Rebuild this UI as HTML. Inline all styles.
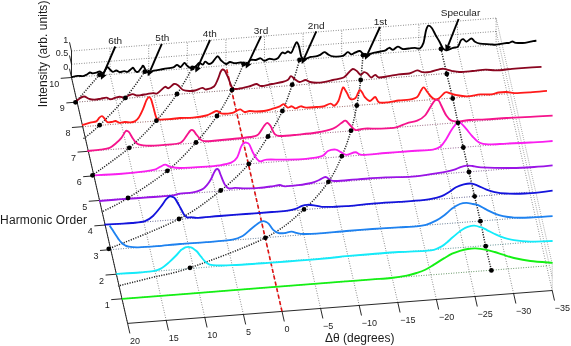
<!DOCTYPE html>
<html><head><meta charset="utf-8"><title>Harmonic order waterfall</title>
<style>
html,body{margin:0;padding:0;background:#fff;}
body{width:571px;height:346px;overflow:hidden;position:relative;font-family:"Liberation Sans",sans-serif;}
svg text{font-family:"Liberation Sans",sans-serif;}
</style></head><body>
<svg width="571" height="346" viewBox="0 0 571 346" style="position:absolute;left:0;top:0">
<rect width="571" height="346" fill="#fff"/>
<path d="M496.1,31.36 L552.2,277.26 M496.1,18.11 L552.2,264.01 M552.2,290.51 L552.2,264.01" fill="none" stroke="#444" stroke-width="0.55" stroke-dasharray="0.8 1.2"/>
<path d="M127.6,323.4 L71.5,77.5 M166.2,320.41 L110.1,74.51 M204.8,317.42 L148.7,71.52 M243.4,314.43 L187.3,68.53 M282,311.44 L225.9,65.54 M320.6,308.45 L264.5,62.55 M359.2,305.46 L303.1,59.56 M397.8,302.47 L341.7,56.57 M436.4,299.48 L380.3,53.58 M475,296.49 L418.9,50.59 M513.6,293.5 L457.5,47.6 M552.2,290.51 L496.1,44.61 M121.99,298.81 L546.59,265.92 M116.38,274.22 L540.98,241.33 M110.77,249.63 L535.37,216.74 M105.16,225.04 L529.76,192.15 M99.55,200.45 L524.15,167.56 M93.94,175.86 L518.54,142.97 M88.33,151.27 L512.93,118.38 M82.72,126.68 L507.32,93.79 M77.11,102.09 L501.71,69.2 M71.5,77.5 L496.1,44.61 M71.5,64.25 L496.1,31.36 M71.5,51 L496.1,18.11 M110.1,74.51 L110.1,48.01 M148.7,71.52 L148.7,45.02 M187.3,68.53 L187.3,42.03 M225.9,65.54 L225.9,39.04 M264.5,62.55 L264.5,36.05 M303.1,59.56 L303.1,33.06 M341.7,56.57 L341.7,30.07 M380.3,53.58 L380.3,27.08 M418.9,50.59 L418.9,24.09 M457.5,47.6 L457.5,21.1 M496.1,44.61 L496.1,18.11" fill="none" stroke="#3a3a3a" stroke-width="0.7" stroke-dasharray="0.8 1.7"/>
<path d="M127.6,323.4 L552.2,290.51 M127.6,323.4 L71.5,77.5 M71.5,77.5 L71.5,51 M127.6,323.4 L129.89,333.44 M166.2,320.41 L168.49,330.45 M204.8,317.42 L207.09,327.46 M243.4,314.43 L245.69,324.47 M282,311.44 L284.29,321.48 M320.6,308.45 L322.89,318.49 M359.2,305.46 L361.49,315.5 M397.8,302.47 L400.09,312.51 M436.4,299.48 L438.69,309.52 M475,296.49 L477.29,306.53 M513.6,293.5 L515.89,303.54 M552.2,290.51 L554.49,300.55 M121.99,298.81 L111.21,299.65 M116.38,274.22 L105.6,275.06 M110.77,249.63 L99.99,250.47 M105.16,225.04 L94.38,225.88 M99.55,200.45 L88.77,201.29 M93.94,175.86 L83.16,176.7 M88.33,151.27 L77.55,152.11 M82.72,126.68 L71.94,127.52 M77.11,102.09 L66.33,102.93 M71.5,77.5 L60.72,78.34 M71.5,77.5 L69.5,68.73 M71.5,64.25 L69.5,55.48 M71.5,51 L69.5,42.23" fill="none" stroke="#111" stroke-width="0.9"/>
<path d="M282,311.44 L226.74,69.23" fill="none" stroke="#e01010" stroke-width="1.6" stroke-dasharray="4 2.6"/>
<path d="M441,48.9 C441.97,53.08 444.85,65.75 446.8,74 C448.75,82.25 450.83,90.27 452.7,98.4 C454.57,106.53 456.23,114.62 458,122.8 C459.77,130.98 461.47,139.3 463.3,147.5 C465.13,155.7 467.12,163.87 469,172 C470.88,180.13 472.7,188.1 474.6,196.3 C476.5,204.5 478.55,212.88 480.4,221.2 C482.25,229.52 483.87,238 485.7,246.2 C487.53,254.4 490.45,266.37 491.4,270.4" fill="none" stroke="#222" stroke-width="1.5" stroke-dasharray="1.15 1.35"/>
<path d="M363,55.2 C362.62,59.33 361.73,71.62 360.7,80 C359.67,88.38 358.42,97.05 356.8,105.5 C355.18,113.95 353.5,122.25 351,130.7 C348.5,139.15 345.57,147.68 341.8,156.2 C338.03,164.72 334.7,172.93 328.4,181.8 C322.1,190.67 314.5,200.07 304,209.4 C293.5,218.73 284.4,228.07 265.4,237.8 C246.4,247.53 209.23,261.1 190,267.8 C170.77,274.5 162,274.97 150,278 C138,281.03 123.33,284.67 118,286" fill="none" stroke="#222" stroke-width="1.5" stroke-dasharray="1.15 1.35"/>
<path d="M299.5,59.9 C298.28,64.03 295.05,76.18 292.2,84.7 C289.35,93.22 286.43,102.37 282.4,111 C278.37,119.63 273.6,127.67 268,136.5 C262.4,145.33 256.68,155 248.8,164 C240.92,173 232.33,181.33 220.7,190.5 C209.07,199.67 197.65,209.28 179,219 C160.35,228.72 120.5,243.83 108.8,248.8" fill="none" stroke="#222" stroke-width="1.5" stroke-dasharray="1.15 1.35"/>
<path d="M243.6,64 C241.67,68.33 236.43,81.33 232,90 C227.57,98.67 223,107.25 217,116 C211,124.75 204.27,133.37 196,142.5 C187.73,151.63 178.73,161.55 167.4,170.8 C156.07,180.05 138.95,191.13 128,198 C117.05,204.87 106.08,209.67 101.7,212" fill="none" stroke="#222" stroke-width="1.5" stroke-dasharray="1.15 1.35"/>
<path d="M192.4,68 C189.83,72.33 183,85.22 177,94 C171,102.78 164.35,111.73 156.4,120.7 C148.45,129.67 139.95,138.7 129.3,147.8 C118.65,156.9 98.63,170.72 92.5,175.3" fill="none" stroke="#222" stroke-width="1.5" stroke-dasharray="1.15 1.35"/>
<path d="M144.8,71.7 C141.57,76.07 132.93,88.98 125.4,97.9 C117.87,106.82 106.62,118.35 99.6,125.2 C92.58,132.05 86.02,136.7 83.3,139" fill="none" stroke="#222" stroke-width="1.5" stroke-dasharray="1.15 1.35"/>
<path d="M99.5,74.8 L75.5,102.3" fill="none" stroke="#222" stroke-width="1.5" stroke-dasharray="1.15 1.35"/>
<path d="M121.99,298.81 L550.45,265.62" fill="none" stroke="#14f014" stroke-width="0.8" stroke-dasharray="0.9 1.6" opacity="0.3"/>
<path d="M116.38,274.22 L544.84,241.03" fill="none" stroke="#14ebfa" stroke-width="0.8" stroke-dasharray="0.9 1.6" opacity="0.3"/>
<path d="M110.77,249.63 L539.23,216.44" fill="none" stroke="#1e82f0" stroke-width="0.8" stroke-dasharray="0.9 1.6" opacity="0.3"/>
<path d="M105.16,225.04 L533.62,191.85" fill="none" stroke="#1414dc" stroke-width="0.8" stroke-dasharray="0.9 1.6" opacity="0.3"/>
<path d="M99.55,200.45 L528.01,167.26" fill="none" stroke="#9a14e6" stroke-width="0.8" stroke-dasharray="0.9 1.6" opacity="0.3"/>
<path d="M93.94,175.86 L522.4,142.67" fill="none" stroke="#fa1ef0" stroke-width="0.8" stroke-dasharray="0.9 1.6" opacity="0.3"/>
<path d="M88.33,151.27 L516.79,118.08" fill="none" stroke="#f5148c" stroke-width="0.8" stroke-dasharray="0.9 1.6" opacity="0.3"/>
<path d="M82.72,126.68 L511.18,93.49" fill="none" stroke="#ff1a1a" stroke-width="0.8" stroke-dasharray="0.9 1.6" opacity="0.3"/>
<path d="M77.11,102.09 L505.57,68.9" fill="none" stroke="#8a0620" stroke-width="0.8" stroke-dasharray="0.9 1.6" opacity="0.3"/>
<path d="M71.5,77.3 C72.55,77.07 75.88,76.1 77.8,75.9 C79.72,75.7 81.4,76.38 83,76.1 C84.6,75.82 86.23,74.8 87.4,74.2 C88.57,73.6 89.12,72.65 90,72.5 C90.88,72.35 91.53,73.32 92.7,73.3 C93.87,73.28 95.83,72.7 97,72.4 C98.17,72.1 98.67,71.38 99.7,71.5 C100.73,71.62 102.18,73.52 103.2,73.1 C104.22,72.68 105.05,69.98 105.8,69 C106.55,68.02 106.97,67.08 107.7,67.2 C108.43,67.32 109.35,68.93 110.2,69.7 C111.05,70.47 111.78,71.67 112.8,71.8 C113.82,71.93 115.13,70.43 116.3,70.5 C117.47,70.57 118.48,72.08 119.8,72.2 C121.12,72.32 122.88,71.27 124.2,71.2 C125.52,71.13 126.53,72.17 127.7,71.8 C128.87,71.43 130.28,69.67 131.2,69 C132.12,68.33 132.47,67.43 133.2,67.8 C133.93,68.17 134.77,70.53 135.6,71.2 C136.43,71.87 137.18,72.42 138.2,71.8 C139.22,71.18 140.87,68.5 141.7,67.5 C142.53,66.5 142.48,65.3 143.2,65.8 C143.92,66.3 145.08,69.37 146,70.5 C146.92,71.63 147.42,72.57 148.7,72.6 C149.98,72.63 151.23,71.3 153.7,70.7 C156.17,70.1 160.22,69.57 163.5,69 C166.78,68.43 171.15,67.98 173.4,67.3 C175.65,66.62 175.78,64.95 177,64.9 C178.22,64.85 179.47,67.33 180.7,67 C181.93,66.67 183.38,63.17 184.4,62.9 C185.42,62.63 185.78,64.58 186.8,65.4 C187.82,66.22 189.07,67.6 190.5,67.8 C191.93,68 193.98,67.42 195.4,66.6 C196.82,65.78 197.77,63.23 199,62.9 C200.23,62.57 201.77,64.8 202.8,64.6 C203.83,64.4 204.18,61.8 205.2,61.7 C206.22,61.6 207.67,63.92 208.9,64 C210.13,64.08 211.17,63.48 212.6,62.2 C214.03,60.92 216.07,56.58 217.5,56.3 C218.93,56.02 219.78,59.22 221.2,60.5 C222.62,61.78 224.53,63.75 226,64 C227.47,64.25 228.52,62.13 230,62 C231.48,61.87 233.07,63.12 234.9,63.2 C236.73,63.28 239.15,62.33 241,62.5 C242.85,62.67 244.37,64.62 246,64.2 C247.63,63.78 249.18,60.7 250.8,60 C252.42,59.3 254.07,60.28 255.7,60 C257.33,59.72 259.17,58.17 260.6,58.3 C262.03,58.43 262.87,60.72 264.3,60.8 C265.73,60.88 267.58,59 269.2,58.8 C270.82,58.6 272.57,59.68 274,59.6 C275.43,59.52 276.47,59.45 277.8,58.3 C279.13,57.15 280.77,53.52 282,52.7 C283.23,51.88 284.2,53.6 285.2,53.4 C286.2,53.2 286.98,51.62 288,51.5 C289.02,51.38 290.27,53.52 291.3,52.7 C292.33,51.88 293.3,48.35 294.2,46.6 C295.1,44.85 295.9,42.2 296.7,42.2 C297.5,42.2 298.18,44.03 299,46.6 C299.82,49.17 300.63,55.57 301.6,57.6 C302.57,59.63 303.23,58.92 304.8,58.8 C306.37,58.68 309.17,57.3 311,56.9 C312.83,56.5 314.38,56.68 315.8,56.4 C317.22,56.12 318.07,55.9 319.5,55.2 C320.93,54.5 322.98,52.33 324.4,52.2 C325.82,52.07 326.57,53.7 328,54.4 C329.43,55.1 330.53,56.15 333,56.4 C335.47,56.65 340.35,56.6 342.8,55.9 C345.25,55.2 346.27,52.45 347.7,52.2 C349.13,51.95 350.18,54.32 351.4,54.4 C352.62,54.48 353.6,53.27 355,52.7 C356.4,52.13 358.38,50.78 359.8,51 C361.22,51.22 362.07,53.43 363.5,54 C364.93,54.57 366.57,54.62 368.4,54.4 C370.23,54.18 372.47,53.18 374.5,52.7 C376.53,52.22 378.77,51.9 380.6,51.5 C382.43,51.1 384.07,50.92 385.5,50.3 C386.93,49.68 387.95,47.88 389.2,47.8 C390.45,47.72 391.57,50 393,49.8 C394.43,49.6 396.18,46.73 397.8,46.6 C399.42,46.47 400.87,48.68 402.7,49 C404.53,49.32 406.75,48.7 408.8,48.5 C410.85,48.3 413.15,47.8 415,47.8 C416.85,47.8 418.48,49.32 419.9,48.5 C421.32,47.68 422.48,45.88 423.5,42.9 C424.52,39.92 425.18,33.47 426,30.6 C426.82,27.73 427.4,26.1 428.4,25.7 C429.4,25.3 430.77,26.57 432,28.2 C433.23,29.83 434.55,33.25 435.8,35.5 C437.05,37.75 438.3,39.53 439.5,41.7 C440.7,43.87 441.78,47.07 443,48.5 C444.22,49.93 445.13,50.42 446.8,50.3 C448.47,50.18 451.15,48.42 453,47.8 C454.85,47.18 456.6,47.82 457.9,46.6 C459.2,45.38 459.9,41.73 460.8,40.5 C461.7,39.27 462.35,39 463.3,39.2 C464.25,39.4 465.15,41.82 466.5,41.7 C467.85,41.58 469.98,38.5 471.4,38.5 C472.82,38.5 473.57,40.85 475,41.7 C476.43,42.55 477.5,43.17 480,43.6 C482.5,44.03 487.3,44.12 490,44.3 C492.7,44.48 493.87,44.87 496.2,44.7 C498.53,44.53 501.82,43.62 504,43.3 C506.18,42.98 507.88,43.1 509.3,42.8 C510.72,42.5 511.4,41.5 512.5,41.5 C513.6,41.5 513.82,42.58 515.9,42.8 C517.98,43.02 522.15,43.07 525,42.8 C527.85,42.53 531.1,41.55 533,41.2 C534.9,40.85 535.83,40.78 536.4,40.7" fill="none" stroke="#000000" stroke-width="1.85" stroke-linejoin="round" stroke-linecap="butt"/>
<path d="M75.6,101.3 C76.35,100.78 78.67,99 80.1,98.2 C81.53,97.4 82.68,96.4 84.2,96.5 C85.72,96.6 87.52,98.28 89.2,98.8 C90.88,99.32 92.43,99.6 94.3,99.6 C96.17,99.6 98.38,99.13 100.4,98.8 C102.42,98.47 104.72,97.53 106.4,97.6 C108.08,97.67 108.98,99.2 110.5,99.2 C112.02,99.2 113.98,98.02 115.5,97.6 C117.02,97.18 118.07,96.7 119.6,96.7 C121.13,96.7 123.18,97.8 124.7,97.6 C126.22,97.4 127.35,96.08 128.7,95.5 C130.05,94.92 131.45,94.1 132.8,94.1 C134.15,94.1 135.45,95.33 136.8,95.5 C138.15,95.67 139.22,95.33 140.9,95.1 C142.58,94.87 144.88,94.43 146.9,94.1 C148.92,93.77 151.32,93.2 153,93.1 C154.68,93 155.65,94 157,93.5 C158.35,93 159.75,91.22 161.1,90.1 C162.45,88.98 163.83,87.12 165.1,86.8 C166.37,86.48 167.22,88.67 168.7,88.2 C170.18,87.73 172.45,84.48 174,84 C175.55,83.52 176.47,84.3 178,85.3 C179.53,86.3 181.2,89.05 183.2,90 C185.2,90.95 188.03,90.92 190,91 C191.97,91.08 192.95,91.02 195,90.5 C197.05,89.98 200.47,88.07 202.3,87.9 C204.13,87.73 204.05,89.73 206,89.5 C207.95,89.27 212,88.28 214,86.5 C216,84.72 216.92,81.22 218,78.8 C219.08,76.38 219.75,73.55 220.5,72 C221.25,70.45 221.75,69.67 222.5,69.5 C223.25,69.33 223.98,69.45 225,71 C226.02,72.55 227.35,75.97 228.6,78.8 C229.85,81.63 230.97,86.33 232.5,88 C234.03,89.67 235.17,89.02 237.8,88.8 C240.43,88.58 245.23,87.5 248.3,86.7 C251.37,85.9 254.02,84.12 256.2,84 C258.38,83.88 258.77,86 261.4,86 C264.03,86 268.5,84.67 272,84 C275.5,83.33 279.78,82.67 282.4,82 C285.02,81.33 286.27,80.97 287.7,80 C289.13,79.03 289.9,76.4 291,76.2 C292.1,76 292.88,77.83 294.3,78.8 C295.72,79.77 297.63,81.8 299.5,82 C301.37,82.2 303.75,80 305.5,80 C307.25,80 308.15,81.55 310,82 C311.85,82.45 314.1,82.73 316.6,82.7 C319.1,82.67 322.27,82.25 325,81.8 C327.73,81.35 329.9,80.72 333,80 C336.1,79.28 340.93,78.8 343.6,77.5 C346.27,76.2 347.47,73.62 349,72.2 C350.53,70.78 351.5,69.2 352.8,69 C354.1,68.8 355.48,70.02 356.8,71 C358.12,71.98 359.5,74.7 360.7,74.9 C361.9,75.1 362.9,72.43 364,72.2 C365.1,71.97 366.1,72.62 367.3,73.5 C368.5,74.38 369.88,77.27 371.2,77.5 C372.52,77.73 373.9,74.9 375.2,74.9 C376.5,74.9 376.82,77.28 379,77.5 C381.18,77.72 385,76.73 388.3,76.2 C391.6,75.67 395.3,74.75 398.8,74.3 C402.3,73.85 406.23,74.15 409.3,73.5 C412.37,72.85 415.02,70.62 417.2,70.4 C419.38,70.18 420.22,71.97 422.4,72.2 C424.58,72.43 427.63,72.23 430.3,71.8 C432.97,71.37 436.18,70.1 438.4,69.6 C440.62,69.1 441.42,68.6 443.6,68.8 C445.78,69 448.87,70.27 451.5,70.8 C454.13,71.33 455.9,71.97 459.4,72 C462.9,72.03 468.12,71.4 472.5,71 C476.88,70.6 481.75,69.7 485.7,69.6 C489.65,69.5 491.82,70.53 496.2,70.4 C500.58,70.27 507.2,69.23 512,68.8 C516.8,68.37 520.08,68.13 525,67.8 C529.92,67.47 538.75,66.97 541.5,66.8" fill="none" stroke="#8a0620" stroke-width="1.85" stroke-linejoin="round" stroke-linecap="butt"/>
<path d="M82.1,125.2 C83.45,124.77 87.83,123.23 90.2,122.6 C92.57,121.97 94.77,122.23 96.3,121.4 C97.83,120.57 98.45,118.47 99.4,117.6 C100.35,116.73 101.17,116.07 102,116.2 C102.83,116.33 103.5,117.4 104.4,118.4 C105.3,119.4 106.05,121.63 107.4,122.2 C108.75,122.77 111.15,122 112.5,121.8 C113.85,121.6 114.32,120.83 115.5,121 C116.68,121.17 118.07,122.63 119.6,122.8 C121.13,122.97 122.85,122.07 124.7,122 C126.55,121.93 129.02,122.5 130.7,122.4 C132.38,122.3 133.45,122.23 134.8,121.4 C136.15,120.57 137.45,119.42 138.8,117.4 C140.15,115.38 141.62,112.17 142.9,109.3 C144.18,106.43 145.5,102.23 146.5,100.2 C147.5,98.17 148.15,97.27 148.9,97.1 C149.65,96.93 150.25,97.5 151,99.2 C151.75,100.9 152.57,104.37 153.4,107.3 C154.23,110.23 155.07,114.75 156,116.8 C156.93,118.85 156.45,119.23 159,119.6 C161.55,119.97 167.8,119.27 171.3,119 C174.8,118.73 176.38,118.23 180,118 C183.62,117.77 188.62,118.02 193,117.6 C197.38,117.18 203.13,116.27 206.3,115.5 C209.47,114.73 210.25,113.75 212,113 C213.75,112.25 215.13,110.9 216.8,111 C218.47,111.1 219.38,113.3 222,113.6 C224.62,113.9 230.08,113.27 232.5,112.8 C234.92,112.33 235.18,111.37 236.5,110.8 C237.82,110.23 239.08,109.2 240.4,109.4 C241.72,109.6 242.87,111.73 244.4,112 C245.93,112.27 247.63,111.08 249.6,111 C251.57,110.92 253.8,111.5 256.2,111.5 C258.6,111.5 261.37,111.43 264,111 C266.63,110.57 269.37,109.68 272,108.9 C274.63,108.12 277.83,107.08 279.8,106.3 C281.77,105.52 282.48,103.98 283.8,104.2 C285.12,104.42 286.38,107.25 287.7,107.6 C289.02,107.95 290.38,106.17 291.7,106.3 C293.02,106.43 294.08,108.4 295.6,108.4 C297.12,108.4 299.07,106.43 300.8,106.3 C302.53,106.17 303.37,107.48 306,107.6 C308.63,107.72 313.77,107.18 316.6,107 C319.43,106.82 320.68,107.07 323,106.5 C325.32,105.93 328.6,103.73 330.5,103.6 C332.4,103.47 333.08,106.13 334.4,105.7 C335.72,105.27 337.3,103.12 338.4,101 C339.5,98.88 340.22,95.27 341,93 C341.78,90.73 342.35,87.82 343.1,87.4 C343.85,86.98 344.77,89.4 345.5,90.5 C346.23,91.6 346.72,92.6 347.5,94 C348.28,95.4 348.87,98.25 350.2,98.9 C351.53,99.55 354.2,98.88 355.5,97.9 C356.8,96.92 357.25,94.32 358,93 C358.75,91.68 359.25,90 360,90 C360.75,90 361.72,91.83 362.5,93 C363.28,94.17 363.45,95.67 364.7,97 C365.95,98.33 368.25,101 370,101 C371.75,101 373.7,96.78 375.2,97 C376.7,97.22 376.82,101.42 379,102.3 C381.18,103.18 385,102.6 388.3,102.3 C391.6,102 395.3,100.93 398.8,100.5 C402.3,100.07 406.23,100.28 409.3,99.7 C412.37,99.12 415.25,98.53 417.2,97 C419.15,95.47 419.9,92.1 421,90.5 C422.1,88.9 422.68,87.07 423.8,87.4 C424.92,87.73 426.17,90.67 427.7,92.5 C429.23,94.33 431.25,97.33 433,98.4 C434.75,99.47 436.2,99.88 438.2,98.9 C440.2,97.92 443.2,93.48 445,92.5 C446.8,91.52 447.03,92.55 449,93 C450.97,93.45 453.75,94.65 456.8,95.2 C459.85,95.75 463.37,96.43 467.3,96.3 C471.23,96.17 476.45,94.72 480.4,94.4 C484.35,94.08 487.93,94.72 491,94.4 C494.07,94.08 496.18,92.9 498.8,92.5 C501.42,92.1 504.07,91.9 506.7,92 C509.33,92.1 510.67,93.05 514.6,93.1 C518.53,93.15 524.9,92.68 530.3,92.3 C535.7,91.92 544.22,91.05 547,90.8" fill="none" stroke="#ff1a1a" stroke-width="1.85" stroke-linejoin="round" stroke-linecap="butt"/>
<path d="M87.3,151 C89.48,150.77 96.68,150.13 100.4,149.6 C104.12,149.07 106.97,148.9 109.6,147.8 C112.23,146.7 114.23,144.67 116.2,143 C118.17,141.33 119.87,139.72 121.4,137.8 C122.93,135.88 124.42,132.63 125.4,131.5 C126.38,130.37 126.65,130.83 127.3,131 C127.95,131.17 128.32,131.17 129.3,132.5 C130.28,133.83 131.67,137.02 133.2,139 C134.73,140.98 135.65,143.28 138.5,144.4 C141.35,145.52 144.83,145.7 150.3,145.7 C155.77,145.7 166.35,144.85 171.3,144.4 C176.25,143.95 177.88,143.82 180,143 C182.12,142.18 182.68,141.03 184,139.5 C185.32,137.97 186.9,135.22 187.9,133.8 C188.9,132.38 189.35,131.65 190,131 C190.65,130.35 191.17,129.9 191.8,129.9 C192.43,129.9 193.13,130.35 193.8,131 C194.47,131.65 194.6,132.32 195.8,133.8 C197,135.28 199.47,138.67 201,139.9 C202.53,141.13 203.25,141.02 205,141.2 C206.75,141.38 206.92,141.37 211.5,141 C216.08,140.63 225.5,139.75 232.5,139 C239.5,138.25 249.12,137.37 253.5,136.5 C257.88,135.63 257.05,135.55 258.8,133.8 C260.55,132.05 262.6,127.83 264,126 C265.4,124.17 266.1,122.8 267.2,122.8 C268.3,122.8 269.37,124.17 270.6,126 C271.83,127.83 273.07,132.13 274.6,133.8 C276.13,135.47 275.87,135.87 279.8,136 C283.73,136.13 292.07,135.18 298.2,134.6 C304.33,134.02 310.8,133.5 316.6,132.5 C322.4,131.5 328.93,130.13 333,128.6 C337.07,127.07 338.92,124.62 341,123.3 C343.08,121.98 343.97,120.38 345.5,120.7 C347.03,121.02 348.53,123.65 350.2,125.2 C351.87,126.75 353.08,129.43 355.5,130 C357.92,130.57 360.55,128.83 364.7,128.6 C368.85,128.37 375.15,128.82 380.4,128.6 C385.65,128.38 391.82,128.18 396.2,127.3 C400.58,126.42 403.2,124.4 406.7,123.3 C410.2,122.2 414.15,122 417.2,120.7 C420.25,119.4 422.6,118.12 425,115.5 C427.4,112.88 430.02,107.45 431.6,105 C433.18,102.55 433.63,101.65 434.5,100.8 C435.37,99.95 436.05,99.87 436.8,99.9 C437.55,99.93 438.3,100.15 439,101 C439.7,101.85 439.78,102.58 441,105 C442.22,107.42 444.55,112.88 446.3,115.5 C448.05,118.12 449.32,119.73 451.5,120.7 C453.68,121.67 456.32,121.42 459.4,121.3 C462.48,121.18 465.62,120.32 470,120 C474.38,119.68 479.58,119.73 485.7,119.4 C491.82,119.07 499.27,118.43 506.7,118 C514.13,117.57 522.65,117.2 530.3,116.8 C537.95,116.4 548.88,115.8 552.6,115.6" fill="none" stroke="#f5148c" stroke-width="1.85" stroke-linejoin="round" stroke-linecap="butt"/>
<path d="M92.5,175.3 C96.88,175.08 110.05,174.67 118.8,174 C127.55,173.33 138.87,172.08 145,171.3 C151.13,170.52 153.02,170.08 155.6,169.3 C158.18,168.52 158.88,167.37 160.5,166.6 C162.12,165.83 163.63,164.65 165.3,164.7 C166.97,164.75 168.05,166.35 170.5,166.9 C172.95,167.45 174.03,168.03 180,168 C185.97,167.97 199.73,167.13 206.3,166.7 C212.87,166.27 215.25,166.07 219.4,165.4 C223.55,164.73 228.25,164.02 231.2,162.7 C234.15,161.38 235.47,160.12 237.1,157.5 C238.73,154.88 240,149.33 241,147 C242,144.67 242.4,144.25 243.1,143.5 C243.8,142.75 244.48,142.58 245.2,142.5 C245.92,142.42 246.7,142.65 247.4,143 C248.1,143.35 248.5,143.07 249.4,144.6 C250.3,146.13 251.57,149.83 252.8,152.2 C254.03,154.57 255.5,157.27 256.8,158.8 C258.1,160.33 258.95,161.27 260.6,161.4 C262.25,161.53 262.63,159.9 266.7,159.6 C270.77,159.3 278.45,159.73 285,159.6 C291.55,159.47 299.87,159.37 306,158.8 C312.13,158.23 318.15,157.5 321.8,156.2 C325.45,154.9 325.57,152.1 327.9,151 C330.23,149.9 333.62,149.4 335.8,149.6 C337.98,149.8 339.25,151.32 341,152.2 C342.75,153.08 343.88,154.9 346.3,154.9 C348.72,154.9 352.88,152.2 355.5,152.2 C358.12,152.2 356.97,154.77 362,154.9 C367.03,155.03 377.37,153.65 385.7,153 C394.03,152.35 404.12,151.57 412,151 C419.88,150.43 428.2,150.38 433,149.6 C437.8,148.82 438.58,148.07 440.8,146.3 C443.02,144.53 444.52,141.72 446.3,139 C448.08,136.28 449.75,132.62 451.5,130 C453.25,127.38 455.27,124.47 456.8,123.3 C458.33,122.13 459.17,122.12 460.7,123 C462.23,123.88 464.03,126.35 466,128.6 C467.97,130.85 470.33,134.18 472.5,136.5 C474.67,138.82 476.37,141.18 479,142.5 C481.63,143.82 483.68,144.22 488.3,144.4 C492.92,144.58 499.7,143.92 506.7,143.6 C513.7,143.28 522.65,142.93 530.3,142.5 C537.95,142.07 548.88,141.25 552.6,141" fill="none" stroke="#fa1ef0" stroke-width="1.85" stroke-linejoin="round" stroke-linecap="butt"/>
<path d="M99,201 C102.3,200.73 111.13,199.97 118.8,199.4 C126.47,198.83 136.25,198.22 145,197.6 C153.75,196.98 165.47,196.37 171.3,195.7 C177.13,195.03 176.38,194.17 180,193.6 C183.62,193.03 189.07,193.17 193,192.3 C196.93,191.43 200.73,190.37 203.6,188.4 C206.47,186.43 208.47,183.13 210.2,180.5 C211.93,177.87 213.03,174.43 214,172.6 C214.97,170.77 215.42,170.1 216,169.5 C216.58,168.9 217,168.83 217.5,169 C218,169.17 218.47,169.5 219,170.5 C219.53,171.5 219.75,172.68 220.7,175 C221.65,177.32 223.38,182.17 224.7,184.4 C226.02,186.63 226.88,187.82 228.6,188.4 C230.32,188.98 232.15,187.9 235,187.9 C237.85,187.9 241.73,188.4 245.7,188.4 C249.67,188.4 254.42,188.25 258.8,187.9 C263.18,187.55 268.5,186.78 272,186.3 C275.5,185.82 277.63,185 279.8,185 C281.97,185 281.93,186.27 285,186.3 C288.07,186.33 293.82,185.75 298.2,185.2 C302.58,184.65 307.8,183.87 311.3,183 C314.8,182.13 316.83,181 319.2,180 C321.57,179 323.62,177 325.5,177 C327.38,177 328.78,179.33 330.5,180 C332.22,180.67 330.98,181.13 335.8,181 C340.62,180.87 351.08,179.8 359.4,179.2 C367.72,178.6 376.93,177.83 385.7,177.4 C394.47,176.97 403.58,177.28 412,176.6 C420.42,175.92 430.48,174.12 436.2,173.3 C441.92,172.48 443.27,172.3 446.3,171.7 C449.33,171.1 452.03,170.47 454.4,169.7 C456.77,168.93 458.47,167.78 460.5,167.1 C462.53,166.42 464.58,165.78 466.6,165.6 C468.62,165.42 470.25,165.72 472.6,166 C474.95,166.28 474.13,166.97 480.7,167.3 C487.27,167.63 502.45,168.1 512,168 C521.55,167.9 531.23,167.13 538,166.7 C544.77,166.27 550.17,165.62 552.6,165.4" fill="none" stroke="#9a14e6" stroke-width="1.85" stroke-linejoin="round" stroke-linecap="butt"/>
<path d="M104.4,224.6 C106.8,224.47 114.2,224.07 118.8,223.8 C123.4,223.53 127.63,223.43 132,223 C136.37,222.57 141.5,222.37 145,221.2 C148.5,220.03 150.37,218.4 153,216 C155.63,213.6 158.63,209.57 160.8,206.8 C162.97,204.03 164.63,201.07 166,199.4 C167.37,197.73 168.2,197.32 169,196.8 C169.8,196.28 170.17,196.27 170.8,196.3 C171.43,196.33 172.05,196.57 172.8,197 C173.55,197.43 174.02,197.07 175.3,198.9 C176.58,200.73 179.05,205.4 180.5,208 C181.95,210.6 182.92,212.95 184,214.5 C185.08,216.05 185.7,216.83 187,217.3 C188.3,217.77 189.9,217.22 191.8,217.3 C193.7,217.38 193.8,218.02 198.4,217.8 C203,217.58 211.52,216.63 219.4,216 C227.28,215.37 236.93,214.67 245.7,214 C254.47,213.33 265,212.55 272,212 C279,211.45 283.77,211.22 287.7,210.7 C291.63,210.18 293.22,209.72 295.6,208.9 C297.98,208.08 300.03,206.48 302,205.8 C303.97,205.12 305.4,204.88 307.4,204.8 C309.4,204.72 311.6,204.97 314,205.3 C316.4,205.63 318.63,206.55 321.8,206.8 C324.97,207.05 328.92,206.9 333,206.8 C337.08,206.7 339.72,206.73 346.3,206.2 C352.88,205.67 363.75,204.32 372.5,203.6 C381.25,202.88 391.62,202.38 398.8,201.9 C405.98,201.42 410.18,201.22 415.6,200.7 C421.02,200.18 426.95,199.57 431.3,198.8 C435.65,198.03 438.67,197.28 441.7,196.1 C444.73,194.92 447.12,193.17 449.5,191.7 C451.88,190.23 453.62,188.52 456,187.3 C458.38,186.08 461.2,185.02 463.8,184.4 C466.4,183.78 469.2,183.37 471.6,183.6 C474,183.83 475.72,184.8 478.2,185.8 C480.68,186.8 483.75,188.55 486.5,189.6 C489.25,190.65 491.5,191.45 494.7,192.1 C497.9,192.75 500.65,193.27 505.7,193.5 C510.75,193.73 519.05,193.73 525,193.5 C530.95,193.27 536.8,192.58 541.4,192.1 C546,191.62 550.73,190.85 552.6,190.6" fill="none" stroke="#1414dc" stroke-width="1.85" stroke-linejoin="round" stroke-linecap="butt"/>
<path d="M109.7,225.6 C110.22,226.38 111.82,228.77 112.8,230.3 C113.78,231.83 114.65,233.33 115.6,234.8 C116.55,236.27 117.55,237.82 118.5,239.1 C119.45,240.38 120.22,241.47 121.3,242.5 C122.38,243.53 123.75,244.6 125,245.3 C126.25,246 126.6,246.37 128.8,246.7 C131,247.03 133.5,247.38 138.2,247.3 C142.9,247.22 150.03,246.75 157,246.2 C163.97,245.65 171.78,244.67 180,244 C188.22,243.33 197.55,242.93 206.3,242.2 C215.05,241.47 226.38,240.68 232.5,239.6 C238.62,238.52 239.92,237.47 243,235.7 C246.08,233.93 248.45,231.07 251,229 C253.55,226.93 256.58,224.53 258.3,223.3 C260.02,222.07 260.43,221.95 261.3,221.6 C262.17,221.25 262.75,221.17 263.5,221.2 C264.25,221.23 264.92,221.37 265.8,221.8 C266.68,222.23 267.57,222.45 268.8,223.8 C270.03,225.15 271.58,228.37 273.2,229.9 C274.82,231.43 276.53,232.48 278.5,233 C280.47,233.52 282.82,233.22 285,233 C287.18,232.78 288.97,231.57 291.6,231.7 C294.23,231.83 296.63,233.48 300.8,233.8 C304.97,234.12 309.02,234.07 316.6,233.6 C324.18,233.13 336.98,231.77 346.3,231 C355.62,230.23 363.75,229.6 372.5,229 C381.25,228.4 391.62,227.83 398.8,227.4 C405.98,226.97 411.07,226.83 415.6,226.4 C420.13,225.97 422.52,225.8 426,224.8 C429.48,223.8 433.45,222 436.5,220.4 C439.55,218.8 441.7,217.17 444.3,215.2 C446.9,213.23 449.5,210.47 452.1,208.6 C454.7,206.73 457.52,204.95 459.9,204 C462.28,203.05 464.23,202.9 466.4,202.9 C468.57,202.9 470.93,203.62 472.9,204 C474.87,204.38 475.93,204.27 478.2,205.2 C480.47,206.13 483.75,208.2 486.5,209.6 C489.25,211 491.95,212.5 494.7,213.6 C497.45,214.7 499.78,215.53 503,216.2 C506.22,216.87 509.43,217.38 514,217.6 C518.57,217.82 523.97,217.75 530.4,217.5 C536.83,217.25 548.9,216.33 552.6,216.1" fill="none" stroke="#1e82f0" stroke-width="1.85" stroke-linejoin="round" stroke-linecap="butt"/>
<path d="M116.2,273.9 C120.13,273.67 133.67,272.95 139.8,272.5 C145.93,272.05 149.5,271.85 153,271.2 C156.5,270.55 158.18,270.03 160.8,268.6 C163.42,267.17 166.07,264.87 168.7,262.6 C171.33,260.33 174.55,257.1 176.6,255 C178.65,252.9 180.03,250.97 181,250 C181.97,249.03 181.68,249.63 182.4,249.2 C183.12,248.77 184.33,247.8 185.3,247.4 C186.27,247 187.25,246.8 188.2,246.8 C189.15,246.8 190.12,247.07 191,247.4 C191.88,247.73 192.5,248.12 193.5,248.8 C194.5,249.48 195.75,250.18 197,251.5 C198.25,252.82 199.45,254.85 201,256.7 C202.55,258.55 204.33,261.18 206.3,262.6 C208.27,264.02 208.43,264.77 212.8,265.2 C217.17,265.63 222.63,265.63 232.5,265.2 C242.37,264.77 261.05,263.35 272,262.6 C282.95,261.85 288.53,261.47 298.2,260.7 C307.87,259.93 321.98,258.75 330,258 C338.02,257.25 339.22,256.87 346.3,256.2 C353.38,255.53 363.75,254.7 372.5,254 C381.25,253.3 389.88,252.53 398.8,252 C407.72,251.47 420.15,251.17 426,250.8 C431.85,250.43 431.28,250.53 433.9,249.8 C436.52,249.07 439.53,247.62 441.7,246.4 C443.87,245.18 445.17,243.93 446.9,242.5 C448.63,241.07 450.37,239.32 452.1,237.8 C453.83,236.28 455.57,234.78 457.3,233.4 C459.03,232.02 460.77,230.58 462.5,229.5 C464.23,228.42 465.75,227.55 467.7,226.9 C469.65,226.25 472.03,225.55 474.2,225.6 C476.37,225.65 478.65,226.5 480.7,227.2 C482.75,227.9 484.17,228.67 486.5,229.8 C488.83,230.93 491.95,232.73 494.7,234 C497.45,235.27 499.78,236.37 503,237.4 C506.22,238.43 509.43,239.5 514,240.2 C518.57,240.9 523.97,241.47 530.4,241.6 C536.83,241.73 548.9,241.1 552.6,241" fill="none" stroke="#14ebfa" stroke-width="1.85" stroke-linejoin="round" stroke-linecap="butt"/>
<path d="M122,298.8 C133.33,297.93 155.33,296.3 190,293.6 C224.67,290.9 303.95,284.65 330,282.6 C356.05,280.55 339.22,281.83 346.3,281.3 C353.38,280.77 365.05,279.95 372.5,279.4 C379.95,278.85 385.3,278.62 391,278 C396.7,277.38 402.47,276.53 406.7,275.7 C410.93,274.87 413.4,273.95 416.4,273 C419.4,272.05 421.78,271.4 424.7,270 C427.62,268.6 430.63,266.58 433.9,264.6 C437.17,262.62 441.27,259.92 444.3,258.1 C447.33,256.28 449.5,254.92 452.1,253.7 C454.7,252.48 457.3,251.58 459.9,250.8 C462.5,250.02 465.1,249.4 467.7,249 C470.3,248.6 472.37,248.27 475.5,248.4 C478.63,248.53 483.3,249.2 486.5,249.8 C489.7,250.4 491.95,251.18 494.7,252 C497.45,252.82 499.78,253.7 503,254.7 C506.22,255.7 509.43,256.95 514,258 C518.57,259.05 523.97,260.2 530.4,261 C536.83,261.8 548.9,262.5 552.6,262.8" fill="none" stroke="#14f014" stroke-width="1.85" stroke-linejoin="round" stroke-linecap="butt"/>
<circle cx="441" cy="48.9" r="2.4" fill="#000"/>
<circle cx="446.8" cy="74" r="2.4" fill="#000"/>
<circle cx="452.7" cy="98.4" r="2.4" fill="#000"/>
<circle cx="458" cy="122.8" r="2.4" fill="#000"/>
<circle cx="463.3" cy="147.5" r="2.4" fill="#000"/>
<circle cx="469" cy="172" r="2.4" fill="#000"/>
<circle cx="474.6" cy="196.3" r="2.4" fill="#000"/>
<circle cx="480.4" cy="221.2" r="2.4" fill="#000"/>
<circle cx="485.7" cy="246.2" r="2.4" fill="#000"/>
<circle cx="491.4" cy="270.4" r="2.4" fill="#000"/>
<circle cx="363" cy="55.2" r="2.4" fill="#000"/>
<circle cx="360.7" cy="80" r="2.4" fill="#000"/>
<circle cx="356.8" cy="105.5" r="2.4" fill="#000"/>
<circle cx="351" cy="130.7" r="2.4" fill="#000"/>
<circle cx="341.8" cy="156.2" r="2.4" fill="#000"/>
<circle cx="328.4" cy="181.8" r="2.4" fill="#000"/>
<circle cx="304" cy="209.4" r="2.4" fill="#000"/>
<circle cx="265.4" cy="237.8" r="2.4" fill="#000"/>
<circle cx="190" cy="267.8" r="2.4" fill="#000"/>
<circle cx="299.5" cy="59.9" r="2.4" fill="#000"/>
<circle cx="292.2" cy="84.7" r="2.4" fill="#000"/>
<circle cx="282.4" cy="111" r="2.4" fill="#000"/>
<circle cx="268" cy="136.5" r="2.4" fill="#000"/>
<circle cx="248.8" cy="164" r="2.4" fill="#000"/>
<circle cx="220.7" cy="190.5" r="2.4" fill="#000"/>
<circle cx="179" cy="219" r="2.4" fill="#000"/>
<circle cx="108.8" cy="248.8" r="2.4" fill="#000"/>
<circle cx="243.6" cy="64" r="2.4" fill="#000"/>
<circle cx="232" cy="90" r="2.4" fill="#000"/>
<circle cx="217" cy="116" r="2.4" fill="#000"/>
<circle cx="196" cy="142.5" r="2.4" fill="#000"/>
<circle cx="167.4" cy="170.8" r="2.4" fill="#000"/>
<circle cx="128" cy="198" r="2.4" fill="#000"/>
<circle cx="192.4" cy="68" r="2.4" fill="#000"/>
<circle cx="177" cy="94" r="2.4" fill="#000"/>
<circle cx="156.4" cy="120.7" r="2.4" fill="#000"/>
<circle cx="129.3" cy="147.8" r="2.4" fill="#000"/>
<circle cx="92.5" cy="175.3" r="2.4" fill="#000"/>
<circle cx="144.8" cy="71.7" r="2.4" fill="#000"/>
<circle cx="125.4" cy="97.9" r="2.4" fill="#000"/>
<circle cx="99.6" cy="125.2" r="2.4" fill="#000"/>
<circle cx="99.5" cy="74.8" r="2.4" fill="#000"/>
<circle cx="75.5" cy="102.3" r="2.4" fill="#000"/>
<path d="M115.3,46.5 L103.49,73.91" stroke="#000" stroke-width="1.9" fill="none"/>
<path d="M101,79.7 L100.55,72.65 L106.43,75.18 Z" fill="#000"/>
<path d="M161.8,43.8 L150.29,70.51" stroke="#000" stroke-width="1.9" fill="none"/>
<path d="M147.8,76.3 L147.35,69.25 L153.23,71.78 Z" fill="#000"/>
<path d="M210,40 L197.98,66.85" stroke="#000" stroke-width="1.9" fill="none"/>
<path d="M195.4,72.6 L195.05,65.54 L200.9,68.16 Z" fill="#000"/>
<path d="M261,36.3 L248.49,62.8" stroke="#000" stroke-width="1.9" fill="none"/>
<path d="M245.8,68.5 L245.6,61.44 L251.38,64.17 Z" fill="#000"/>
<path d="M316.3,31.4 L304.28,58.15" stroke="#000" stroke-width="1.9" fill="none"/>
<path d="M301.7,63.9 L301.36,56.84 L307.2,59.46 Z" fill="#000"/>
<path d="M380,27 L367.63,53.97" stroke="#000" stroke-width="1.9" fill="none"/>
<path d="M365,59.7 L364.72,52.64 L370.54,55.31 Z" fill="#000"/>
<path d="M458.6,19 L448.11,45.54" stroke="#000" stroke-width="1.9" fill="none"/>
<path d="M445.8,51.4 L445.14,44.36 L451.09,46.72 Z" fill="#000"/>
<g font-family="Liberation Sans, sans-serif" fill="#1c1c1c" style="will-change:transform"><text x="130.09" y="343.89" font-size="9" text-anchor="start" >20</text><text x="168.69" y="340.9" font-size="9" text-anchor="start" >15</text><text x="207.29" y="337.91" font-size="9" text-anchor="start" >10</text><text x="245.89" y="334.92" font-size="9" text-anchor="start" >5</text><text x="284.49" y="331.93" font-size="9" text-anchor="start" >0</text><text x="323.09" y="328.94" font-size="9" text-anchor="start" >−5</text><text x="361.69" y="325.95" font-size="9" text-anchor="start" >−10</text><text x="400.29" y="322.96" font-size="9" text-anchor="start" >−15</text><text x="438.89" y="319.97" font-size="9" text-anchor="start" >−20</text><text x="477.49" y="316.98" font-size="9" text-anchor="start" >−25</text><text x="516.09" y="313.99" font-size="9" text-anchor="start" >−30</text><text x="554.69" y="311" font-size="9" text-anchor="start" >−35</text><text x="109.71" y="308.19" font-size="9" text-anchor="end" >1</text><text x="104.1" y="283.6" font-size="9" text-anchor="end" >2</text><text x="98.49" y="259.01" font-size="9" text-anchor="end" >3</text><text x="92.88" y="234.42" font-size="9" text-anchor="end" >4</text><text x="87.27" y="209.83" font-size="9" text-anchor="end" >5</text><text x="81.66" y="185.24" font-size="9" text-anchor="end" >6</text><text x="76.05" y="160.65" font-size="9" text-anchor="end" >7</text><text x="70.44" y="136.06" font-size="9" text-anchor="end" >8</text><text x="64.83" y="111.47" font-size="9" text-anchor="end" >9</text><text x="59.22" y="86.88" font-size="9" text-anchor="end" >10</text><text x="68.3" y="69.55" font-size="9" text-anchor="end" >0</text><text x="68.3" y="56.3" font-size="9" text-anchor="end" >0.5</text><text x="68.3" y="43.05" font-size="9" text-anchor="end" >1</text><text x="115.2" y="43.9" font-size="9.3" text-anchor="middle" textLength="13.9" lengthAdjust="spacingAndGlyphs">6th</text><text x="162.3" y="40.9" font-size="9.3" text-anchor="middle" textLength="13.9" lengthAdjust="spacingAndGlyphs">5th</text><text x="209.8" y="37.3" font-size="9.3" text-anchor="middle" textLength="13.9" lengthAdjust="spacingAndGlyphs">4th</text><text x="261" y="33.9" font-size="9.3" text-anchor="middle" textLength="14.45" lengthAdjust="spacingAndGlyphs">3rd</text><text x="316.2" y="29.1" font-size="9.3" text-anchor="middle" textLength="16.7" lengthAdjust="spacingAndGlyphs">2nd</text><text x="380.3" y="24.6" font-size="9.3" text-anchor="middle" textLength="13.35" lengthAdjust="spacingAndGlyphs">1st</text><text x="460.5" y="15.9" font-size="9.3" text-anchor="middle" textLength="39.5" lengthAdjust="spacingAndGlyphs">Specular</text><text x="0.1" y="224" font-size="12" text-anchor="start" textLength="86.9" lengthAdjust="spacing">Harmonic Order</text><text x="325" y="341.8" font-size="12" text-anchor="start" >Δθ (degrees)</text><text transform="translate(46.5,107.2) rotate(-90)" font-size="12" textLength="106.6" lengthAdjust="spacing">Intensity (arb. units)</text></g>
</svg>
</body></html>
